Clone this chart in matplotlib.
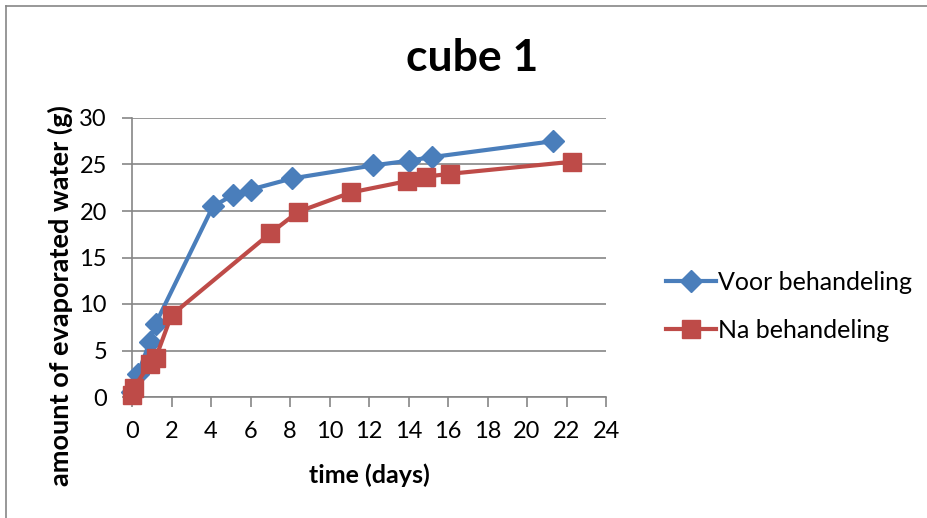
#!/usr/bin/env python
# -*- coding: utf-8 -*-

import matplotlib
matplotlib.use('Agg')
import matplotlib.pyplot as plt
from matplotlib.lines import Line2D

plt.rcParams['font.family'] = ['Lato', 'DejaVu Sans']

# data
voor_days = [0, 0.3, 0.9, 1.2, 4.1, 5.1, 6.0, 8.1, 12.2, 14.0, 15.2, 21.3]
voor_water = [0.5, 2.5, 5.9, 7.9, 20.5, 21.7, 22.3, 23.5, 24.9, 25.4, 25.8, 27.5]
na_days = [0, 0.1, 0.9, 1.2, 2.0, 7.0, 8.4, 11.1, 13.9, 14.9, 16.1, 22.3]
na_water = [0.2, 1.0, 3.6, 4.2, 8.8, 17.6, 19.9, 22.0, 23.2, 23.7, 24.0, 25.3]

x_ticks = list(range(0, 25, 2))
y_ticks = list(range(0, 31, 5))

blue = '#4A7EBB'
red = '#BE4B48'
grey = '#868686'

fig = plt.figure(figsize=(9.27, 5.18), dpi=100)
ax = fig.add_axes([132 / 927, 1 - 397 / 518, 474 / 927, 279 / 518])

ax.plot(voor_days, voor_water, color=blue, lw=3, marker='D', ms=11,
        clip_on=False, zorder=3, label='Voor behandeling')
ax.plot(na_days, na_water, color=red, lw=3, marker='s', ms=13,
        clip_on=False, zorder=4, label='Na behandeling')

ax.set_xlim(0, 24)
ax.set_ylim(0, 30)
ax.set_xticks(x_ticks)
ax.set_yticks(y_ticks)
ax.grid(axis='y', color=grey, lw=1.2)
ax.set_axisbelow(True)
for s in ['top', 'right']:
    ax.spines[s].set_visible(False)
for s in ['left', 'bottom']:
    ax.spines[s].set_color(grey)
    ax.spines[s].set_linewidth(1.2)
ax.tick_params(axis='x', length=7, color=grey, width=1.2, labelsize=17, pad=10)
ax.tick_params(axis='y', length=7, color=grey, width=1.2, labelsize=17, pad=11)

ax.set_xlabel('time (days)', fontsize=18, fontweight='bold', labelpad=16)
ax.set_ylabel('amount of evaporated water (g)', fontsize=19.5, fontweight='bold')
ax.yaxis.set_label_coords(-0.1245, 0.362)
fig.text(472 / 927, 1 - 58 / 518, 'cube 1', fontsize=32, fontweight='bold',
         ha='center', va='center')

handles = [Line2D([], [], color=blue, lw=3, marker='D', ms=11),
           Line2D([], [], color=red, lw=3, marker='s', ms=13)]
fig.legend(handles, ['Voor behandeling', 'Na behandeling'],
           loc='center left', bbox_to_anchor=(643 / 927, 1 - 306 / 518),
           frameon=False, fontsize=18, handlelength=2.0, handletextpad=0.1,
           labelspacing=1.0)

# chart border (only top and left visible in the crop)
fig.add_artist(Line2D([6 / 927, 6 / 927], [0, 1 - 6 / 518], color=grey, lw=1.2))
fig.add_artist(Line2D([6 / 927, 1], [1 - 6 / 518, 1 - 6 / 518], color=grey, lw=1.2))

fig.savefig('out.png', dpi=100)
